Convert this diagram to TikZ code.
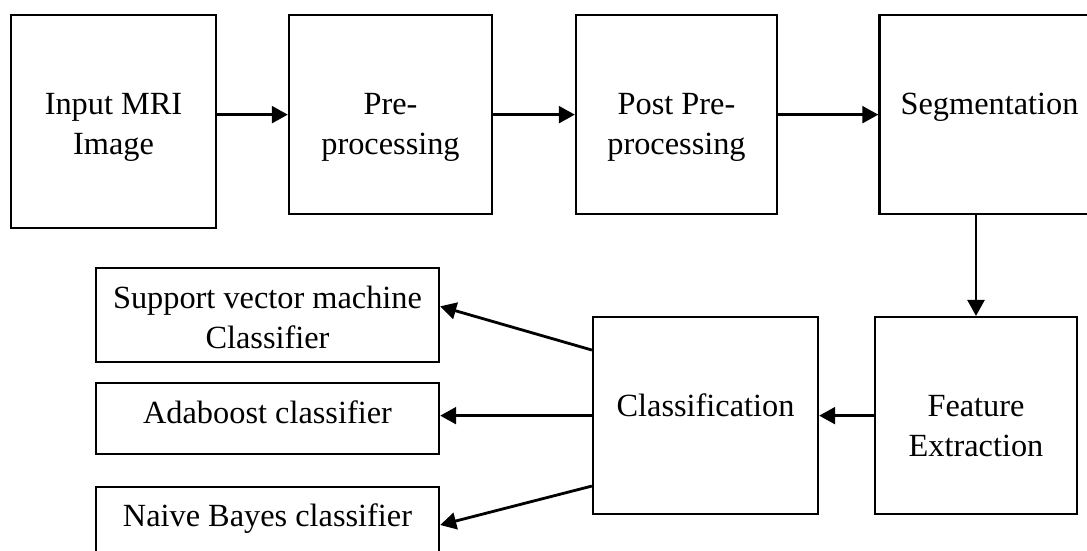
\documentclass[tikz,border=0pt]{standalone}
\usepackage{fontspec}
\setmainfont{Liberation Serif}
\usetikzlibrary{arrows.meta}
\usetikzlibrary{positioning}

\begin{document}
\begin{tikzpicture}[x=0.025cm,y=-0.025cm,
  blk/.style={draw=black,line width=1.6pt,rectangle,inner sep=0pt,anchor=north,align=flush center,font=\fontsize{23}{28.4}\selectfont},
  arr/.style={line width=2pt,-{Triangle[length=4mm,width=4.2mm]}}]
\useasboundingbox (0,0) rectangle (1087,551);
\clip (0,0) rectangle (1087,551);
% top row
\node[blk,text width=5.125cm,text height=2.475cm,text depth=2.85cm] (input) at (113.5,14) {Input MRI\\Image};
\node[blk,text width=5.075cm,text height=2.475cm,text depth=2.5cm] (pre) at (390.5,14) {Pre-\\processing};
\node[blk,text width=5.025cm,text height=2.475cm,text depth=2.5cm] (post) at (676.5,14) {Post Pre-\\processing};
\node[blk,text width=5.5cm,text height=2.475cm,text depth=2.5cm] (seg) at (989.5,14) {Segmentation};
% bottom row
\node[blk,text width=5.05cm,text height=2.475cm,text depth=2.45cm] (feat) at (976,316) {Feature\\Extraction};
\node[blk,text width=5.625cm,text height=2.475cm,text depth=2.45cm] (class) at (705.5,316) {Classification};
% classifiers
\node[blk,text width=8.575cm,text height=1cm,text depth=1.35cm] (svm) at (267.5,267) {Support vector machine\\Classifier};
\node[blk,text width=8.575cm,text height=1cm,text depth=0.775cm] (ada) at (267.5,382) {Adaboost classifier};
\node[blk,text width=8.575cm,text height=0.975cm,text depth=2cm] (nb) at (267.5,486) {Naive Bayes classifier};

\draw[arr] (input.east |- pre.west) -- (pre.west);
\draw[arr] (pre.east) -- (post.west);
\draw[arr] (post.east) -- (seg.west);
\draw[arr] (seg.south -| feat.north) -- (feat.north);
\draw[arr] (feat.west) -- (class.east);
\draw[arr] ([yshift=1.64cm]class.west) -- ([yshift=0.22cm]svm.east);
\draw[arr] (class.west) -- (ada.east |- class.west);
\draw[arr] ([yshift=-1.76cm]class.west) -- ([yshift=-0.975cm]nb.north east);

\end{tikzpicture}
\end{document}
